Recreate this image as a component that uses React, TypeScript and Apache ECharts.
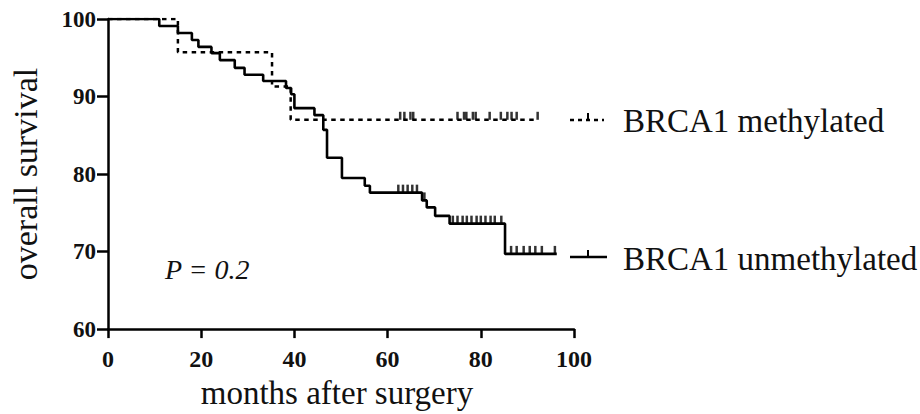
import React, { useEffect, useRef } from "react";
import * as echarts from "echarts";

// Kaplan-Meier steps (months, % surviving after the event)
const unmethTime = [0, 11, 15, 18, 19.4, 22.2, 24, 27.2, 29.3, 33.3, 38.2, 39.3, 40, 44.3, 46.2, 47, 50.2, 55.1, 56.2, 67.4, 68.4, 70.2, 73.3, 85.2, 96.3];
const unmethSurv = [100, 99.1, 98.2, 97.3, 96.4, 95.6, 94.7, 93.7, 92.8, 92.0, 91.1, 90.3, 88.5, 87.6, 85.7, 82.1, 79.5, 78.5, 77.6, 76.6, 75.7, 74.6, 73.6, 69.7, 69.7];
const methTime = [0, 15, 35.2, 39.2, 92.2];
const methSurv = [100, 95.7, 91.3, 87.0, 87.0];

// censored observations (months)
const methCensor = [62.7, 63.6, 64.9, 65.5, 75.0, 76.4, 76.9, 78.3, 78.9, 81.9, 84.3, 85.7, 86.6, 87.7, 92.2];
const unmethCensor = [62.3, 63.3, 64.3, 65.3, 66.3, 67.9, 74.0, 75.0, 76.1, 77.0, 78.0, 79.1, 80.0, 81.0, 82.1, 83.0, 84.4, 86.5, 87.7, 89.2, 90.5, 91.7, 93.1, 95.9];

const seriesNames = ["BRCA1 methylated", "BRCA1 unmethylated"];
const xTicks = { min: 0, max: 100, interval: 20 };
const yTicks = { min: 60, max: 100, interval: 10 };
const xTitle = "months after surgery";
const yTitle = "overall survival";
const pText = "P = 0.2";

function survAt(times: number[], surv: number[], t: number) {
  let s = surv[0];
  for (let i = 0; i < times.length; i++) if (times[i] <= t) s = surv[i];
  return s;
}

const FONT = "Liberation Serif";

export default function App() {
  const ref = useRef<HTMLDivElement>(null);
  useEffect(() => {
    document.body.style.margin = "0";
    const chart = echarts.init(ref.current!, null, { renderer: "svg" });
    const steps = (t: number[], s: number[]) => t.map((v, i) => [v, s[i]]);
    const cens = (c: number[], t: number[], s: number[]) => c.map((v) => [v, survAt(t, s, v)]);
    const textStyle = (size: number, italic = false) => ({
      fontFamily: FONT,
      fontSize: size,
      fontStyle: italic ? "italic" : "normal",
      fill: "#111",
      verticalAlign: "middle",
    });
    chart.setOption({
      animation: false,
      backgroundColor: "#fff",
      grid: { left: 106, right: 346, top: 19, bottom: 83 },
      xAxis: {
        type: "value",
        min: xTicks.min,
        max: xTicks.max,
        interval: xTicks.interval,
        name: xTitle,
        nameLocation: "middle",
        nameGap: 44,
        nameTextStyle: { fontFamily: FONT, fontSize: 33, color: "#111", padding: [0, 8, 0, 0] },
        axisLine: { lineStyle: { color: "#000", width: 2.5 } },
        axisTick: { length: 9, lineStyle: { color: "#000", width: 2.5 } },
        axisLabel: { margin: 18, fontFamily: FONT, fontSize: 24, fontWeight: "bold", color: "#111" },
        splitLine: { show: false },
      },
      yAxis: {
        type: "value",
        min: yTicks.min,
        max: yTicks.max,
        interval: yTicks.interval,
        name: yTitle,
        nameLocation: "middle",
        nameRotate: 90,
        nameGap: 66,
        nameTextStyle: { fontFamily: FONT, fontSize: 34, color: "#111" },
        axisLine: { lineStyle: { color: "#000", width: 2.5 } },
        axisTick: { length: 11, lineStyle: { color: "#000", width: 2.5 } },
        axisLabel: { margin: 12, fontFamily: FONT, fontSize: 23, fontWeight: "bold", color: "#111" },
        splitLine: { show: false },
      },
      series: [
        {
          name: seriesNames[0],
          type: "line",
          step: "end",
          showSymbol: false,
          data: steps(methTime, methSurv),
          lineStyle: { color: "#000", width: 2.5, type: [4.5, 4.5] },
          z: 2,
        },
        {
          name: seriesNames[1],
          type: "line",
          step: "end",
          showSymbol: false,
          data: steps(unmethTime, unmethSurv),
          lineStyle: { color: "#000", width: 2.6 },
          z: 3,
        },
        {
          type: "scatter",
          data: cens(methCensor, methTime, methSurv),
          symbol: "rect",
          symbolSize: [2.5, 8],
          symbolOffset: [0, "-50%"],
          itemStyle: { color: "#000" },
          z: 4,
        },
        {
          type: "scatter",
          data: cens(unmethCensor, unmethTime, unmethSurv),
          symbol: "rect",
          symbolSize: [2.5, 8],
          symbolOffset: [0, "-50%"],
          itemStyle: { color: "#000" },
          z: 4,
        },
      ],
      graphic: [
        { type: "line", shape: { x1: 570, y1: 120, x2: 604, y2: 120 }, style: { stroke: "#000", lineWidth: 2.5, lineDash: [4, 4] } },
        { type: "line", shape: { x1: 588, y1: 113, x2: 588, y2: 120 }, style: { stroke: "#000", lineWidth: 2 } },
        { type: "text", x: 623, y: 121, style: { text: seriesNames[0], ...textStyle(33) } },
        { type: "line", shape: { x1: 570, y1: 257, x2: 607, y2: 257 }, style: { stroke: "#000", lineWidth: 2.5 } },
        { type: "line", shape: { x1: 588, y1: 250, x2: 588, y2: 257 }, style: { stroke: "#000", lineWidth: 2 } },
        { type: "text", x: 623, y: 259, style: { text: seriesNames[1], ...textStyle(33) } },
        { type: "text", x: 165, y: 269, style: { text: pText, ...textStyle(28, true) } },
      ],
    });
    return () => chart.dispose();
  }, []);
  return <div ref={ref} style={{ width: 920, height: 414 }} />;
}
